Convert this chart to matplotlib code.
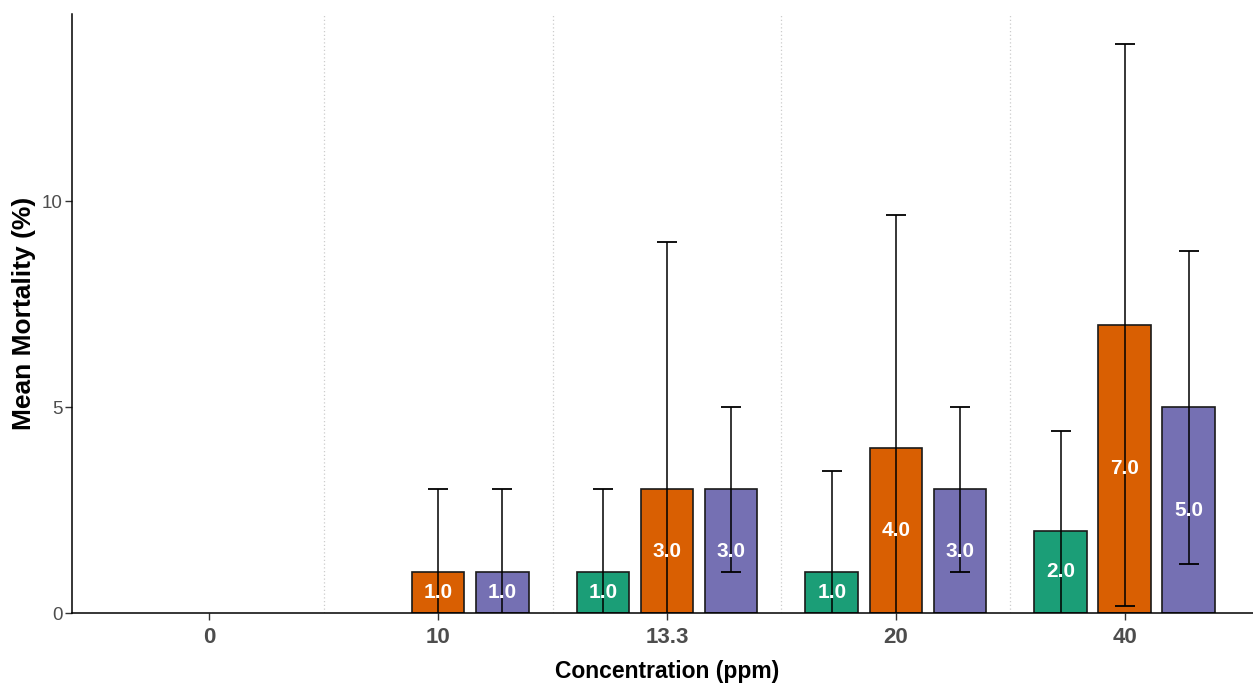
import numpy as np
import matplotlib
matplotlib.use('Agg')
from matplotlib import pyplot as plt

# dane
groups = ['0', '10', '13.3', '20', '40']
colors = ['#1B9E77', '#D95F02', '#7570B3']

mean_a = [0, 0, 1.0, 1.0, 2.0]
mean_b = [0, 1.0, 3.0, 4.0, 7.0]
mean_c = [0, 1.0, 3.0, 3.0, 5.0]
sd_a = [0, 0, 2.0, 2.45, 2.42]
sd_b = [0, 2.0, 6.0, 5.66, 6.83]
sd_c = [0, 2.0, 2.0, 2.0, 3.8]

means = [mean_a, mean_b, mean_c]
sds = [sd_a, sd_b, sd_c]

plt.rcParams['font.family'] = ['Liberation Sans', 'DejaVu Sans']

W, H = 1253, 683
fig = plt.figure(figsize=(W / 100, H / 100), dpi=100)
ax = fig.add_axes([72 / W, 1 - 613 / H, (1262 - 72) / W, (613 - 14) / H])

x = np.arange(len(groups))
offset = 0.28
width = 0.23

for i in range(3):
    for j in range(len(groups)):
        m = means[i][j]
        if m == 0:
            continue
        xp = x[j] + (i - 1) * offset
        ax.bar(xp, m, width=width, color=colors[i], edgecolor='#1a1a1a', linewidth=1.2, zorder=2)
        ax.errorbar(xp, m, yerr=sds[i][j], fmt='none', ecolor='black', elinewidth=1.1,
                    capsize=7.5, capthick=1.3, zorder=3)
        ax.text(xp, m / 2, f'{m:.1f}', ha='center', va='center', color='white',
                fontsize=15, fontweight='bold', zorder=4)

# przerywane linie między grupami
for sep in x[:-1] + 0.5:
    ax.axvline(sep, color='#cccccc', linestyle=(0, (1, 2)), linewidth=0.9, zorder=1)

ax.set_xlim(-0.6, 4.6)
ax.set_ylim(0, 14.55)
ax.set_xticks(x)
ax.set_xticklabels(groups, fontsize=16, fontweight='bold', color='#4D4D4D')
ax.set_yticks([0, 5, 10])
ax.set_yticklabels(['0', '5', '10'], fontsize=13.5, color='#4D4D4D')
ax.tick_params(axis='x', length=5, width=1, color='#333333', pad=5)
ax.tick_params(axis='y', length=5, width=1, color='#333333', pad=2)

for s in ['top', 'right']:
    ax.spines[s].set_visible(False)
for s in ['left', 'bottom']:
    ax.spines[s].set_linewidth(1.1)
    ax.spines[s].set_color('black')

ax.set_xlabel('Concentration (ppm)', fontsize=16.5, fontweight='bold', labelpad=9)
ax.set_ylabel('Mean Mortality (%)', fontsize=19, fontweight='bold', labelpad=4)

fig.savefig('out.png', dpi=100)
